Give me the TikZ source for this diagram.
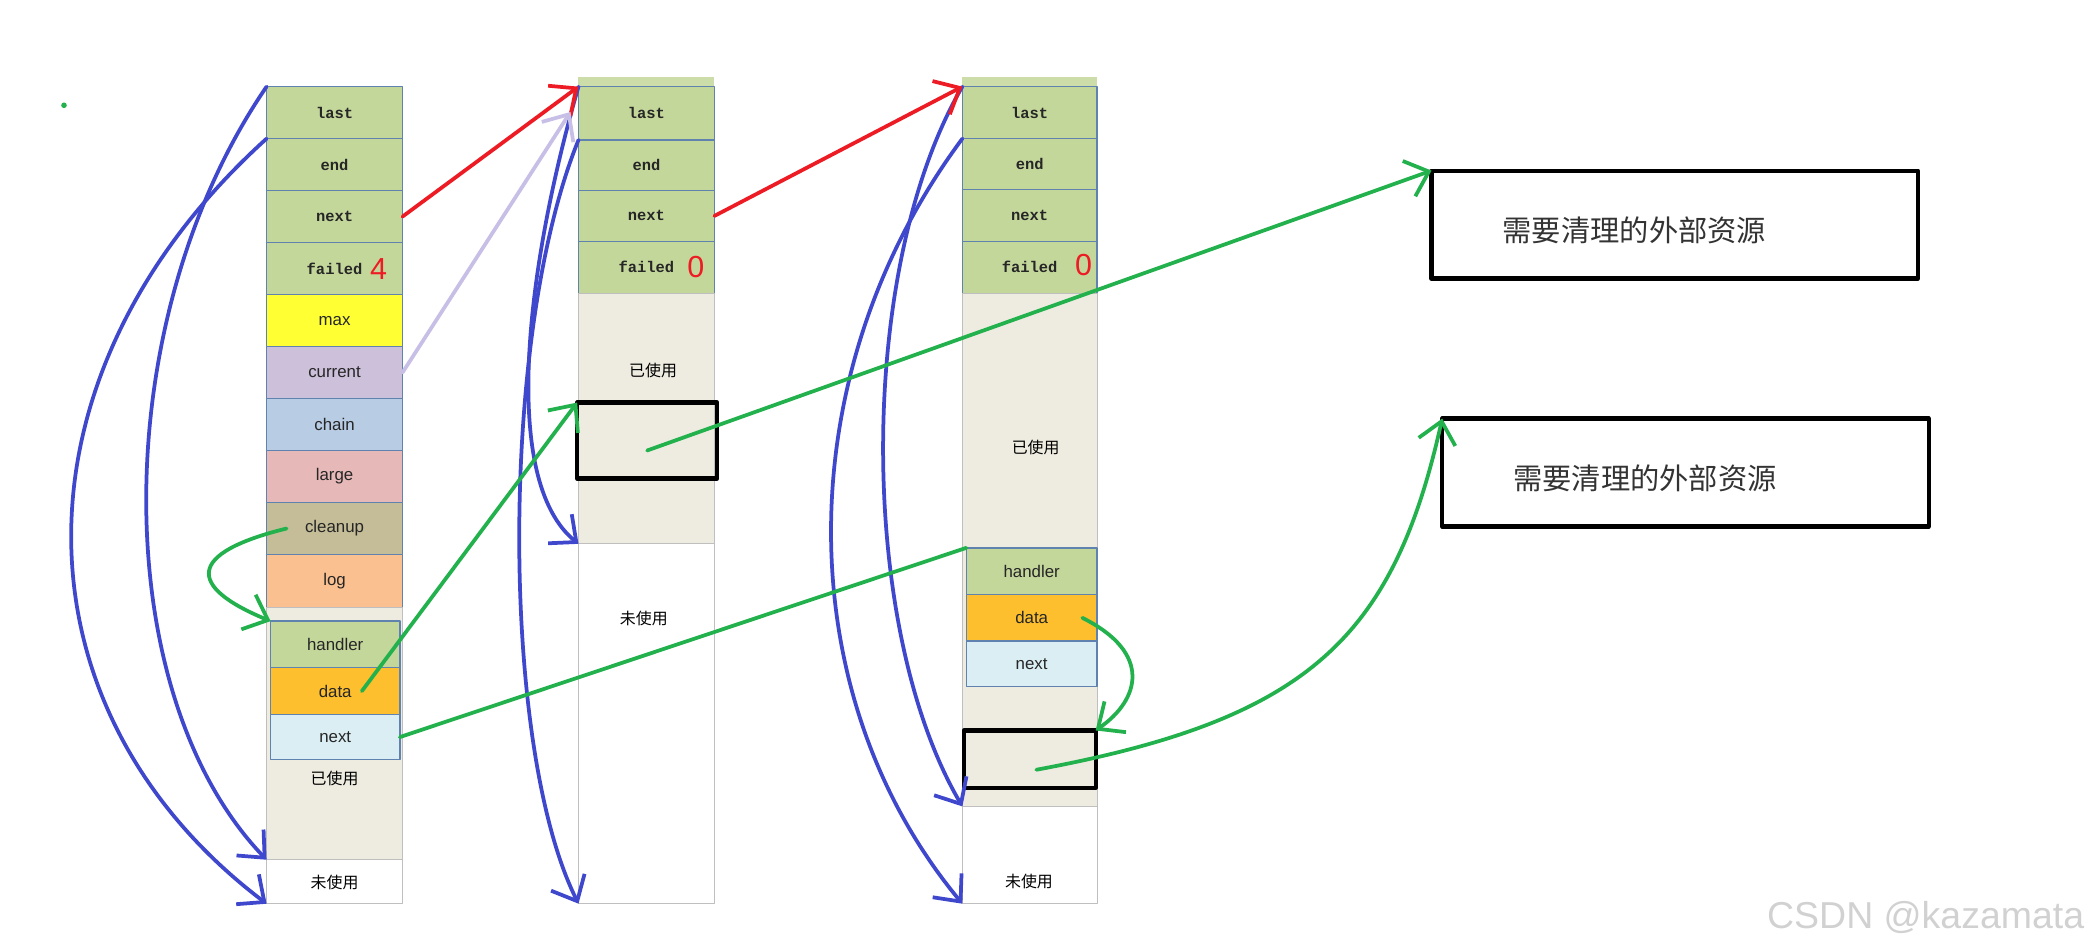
\documentclass[tikz,border=0pt]{standalone}
\usepackage{fontspec}
\setmainfont{Liberation Sans}
\newfontfamily\cjkfont{Noto Sans CJK SC}
\newfontfamily\monofont{Liberation Mono}
\usetikzlibrary{arrows.meta}

\definecolor{cellgreen}{RGB}{196,215,155}
\definecolor{cellyellow}{RGB}{255,255,51}
\definecolor{celllav}{RGB}{204,192,218}
\definecolor{cellblue}{RGB}{184,204,228}
\definecolor{cellpink}{RGB}{230,185,184}
\definecolor{cellkhaki}{RGB}{196,189,151}
\definecolor{cellpeach}{RGB}{250,192,144}
\definecolor{cellorange}{RGB}{253,191,45}
\definecolor{cellcyan}{RGB}{218,238,243}
\definecolor{cellbeige}{RGB}{238,236,225}
\definecolor{cellline}{RGB}{95,130,175}
\definecolor{penblue}{RGB}{63,72,204}
\definecolor{penred}{RGB}{237,28,36}
\definecolor{pengreen}{RGB}{34,177,76}
\definecolor{penlav}{RGB}{200,191,231}

\newcommand{\monolab}{\monofont\bfseries\fontsize{6.6}{7}\selectfont}
\newcommand{\sanslab}{\fontsize{7.2}{8}\selectfont}
\newcommand{\cjklab}{\cjkfont\fontsize{6.8}{8}\selectfont}
\newcommand{\cjkbig}{\cjkfont\fontsize{12.5}{14}\selectfont}
\newcommand{\countlab}{\fontsize{13}{14}\selectfont}

\tikzset{
  cellbox/.style={draw=cellline, line width=0.6pt, inner sep=0pt, outer sep=0pt,
    anchor=north west, minimum width=2.04cm, minimum height=0.78cm, text=black!85},
  areabox/.style={draw=black!25, line width=0.4pt, inner sep=0pt, outer sep=0pt,
    anchor=north west, minimum width=2.04cm},
  markbox/.style={draw=black, line width=1.8pt, inner sep=0pt, outer sep=0pt, anchor=north west},
  resbox/.style={draw=black, line width=1.8pt, inner sep=0pt, outer sep=0pt,
    anchor=north west, minimum width=7.3cm, minimum height=1.62cm},
  countlabel/.style={text=penred, inner sep=0pt, font=\countlab},
  bluepen/.style={penblue, line width=1.6pt, ->},
  redpen/.style={penred, line width=1.6pt, ->},
  lavpen/.style={penlav, line width=1.6pt, ->},
  greenpen/.style={pengreen, line width=1.6pt},
}

\begin{document}
\begin{tikzpicture}[line cap=round,line join=round,>={Straight Barb[length=9pt,width=16pt]},x=0.02cm,y=-0.02cm]

\useasboundingbox (0,0) rectangle (1568,713);

% first block
\node[cellbox, fill=cellgreen] (c1last) at (200,65) {\monolab last};
\node[cellbox, fill=cellgreen] (c1end) at (200,104) {\monolab end};
\node[cellbox, fill=cellgreen] (c1next) at (200,143) {\monolab next};
\node[cellbox, fill=cellgreen] (c1failed) at (200,182) {\monolab failed\hspace{0.5em}};
\node[cellbox, fill=cellyellow] (c1max) at (200,221) {\sanslab max};
\node[cellbox, fill=celllav] (c1current) at (200,260) {\sanslab current};
\node[cellbox, fill=cellblue] (c1chain) at (200,299) {\sanslab chain};
\node[cellbox, fill=cellpink] (c1large) at (200,338) {\sanslab large};
\node[cellbox, fill=cellkhaki] (c1cleanup) at (200,377) {\sanslab cleanup};
\node[cellbox, fill=cellpeach, minimum height=0.8cm] (c1log) at (200,416) {\sanslab log};
\node[areabox, fill=cellbeige, minimum height=3.78cm] (c1used) at (200,456) {};
\node[cellbox, fill=cellgreen, minimum width=1.94cm, minimum height=0.7cm] (c1handler) at (203,466) {\sanslab handler};
\node[cellbox, fill=cellorange, minimum width=1.94cm, minimum height=0.7cm] (c1data) at (203,501) {\sanslab data};
\node[cellbox, fill=cellcyan, minimum width=1.94cm, minimum height=0.68cm] (c1cnext) at (203,536) {\sanslab next};
\node[areabox, fill=white, minimum height=0.66cm] (c1free) at (200,645) {};
\node (c1usedtxt) at (251,584) {\cjklab 已使用};
\node (c1freetxt) at (251,662) {\cjklab 未使用};
\node[countlabel] (c1count) at (284,202) {4};

% second block
\node[cellbox, fill=cellgreen!85, draw=none, minimum height=0.14cm] (c2cap) at (434,58) {};
\node[cellbox, fill=cellgreen, minimum height=0.8cm] (c2last) at (434,65) {\monolab last};
\node[cellbox, fill=cellgreen, minimum height=0.76cm] (c2end) at (434,105) {\monolab end};
\node[cellbox, fill=cellgreen, minimum height=0.76cm] (c2next) at (434,143) {\monolab next};
\node[cellbox, fill=cellgreen] (c2failed) at (434,181) {\monolab failed};
\node[areabox, fill=cellbeige, minimum height=3.76cm] (c2used) at (434,220) {};
\node[areabox, fill=white, minimum height=5.4cm] (c2free) at (434,408) {};
\node[markbox, minimum width=2.1cm, minimum height=1.14cm] (c2box) at (433,302) {};
\node (c2usedtxt) at (490,278) {\cjklab 已使用};
\node (c2freetxt) at (483,464) {\cjklab 未使用};
\node[countlabel] (c2count) at (522,200) {0};

% third block
\node[cellbox, fill=cellgreen!85, draw=none, minimum width=2.02cm, minimum height=0.14cm] (c3cap) at (722,58) {};
\node[cellbox, fill=cellgreen, minimum width=2.02cm] (c3last) at (722,65) {\monolab last};
\node[cellbox, fill=cellgreen, minimum width=2.02cm, minimum height=0.76cm] (c3end) at (722,104) {\monolab end};
\node[cellbox, fill=cellgreen, minimum width=2.02cm] (c3next) at (722,142) {\monolab next};
\node[cellbox, fill=cellgreen, minimum width=2.02cm] (c3failed) at (722,181) {\monolab failed};
\node[areabox, fill=cellbeige, minimum width=2.02cm, minimum height=7.7cm] (c3used) at (722,220) {};
\node[cellbox, fill=cellgreen, minimum width=1.96cm, minimum height=0.7cm] (c3handler) at (725,411) {\sanslab handler};
\node[cellbox, fill=cellorange, minimum width=1.96cm, minimum height=0.7cm] (c3data) at (725,446) {\sanslab data};
\node[cellbox, fill=cellcyan, minimum width=1.96cm, minimum height=0.68cm] (c3cnext) at (725,481) {\sanslab next};
\node[areabox, fill=white, minimum width=2.02cm, minimum height=1.46cm] (c3free) at (722,605) {};
\node[markbox, minimum width=1.98cm, minimum height=0.86cm] (c3box) at (723,548) {};
\node (c3usedtxt) at (777,336) {\cjklab 已使用};
\node (c3freetxt) at (772,661) {\cjklab 未使用};
\node[countlabel] (c3count) at (813,199) {0};

% outside resources
\node[resbox] (res1) at (1074,128) {};
\node[resbox] (res2) at (1082,314) {};
\node[anchor=west, inner sep=0pt, text=black!80] (res1txt) at (1127,173) {\cjkbig 需要清理的外部资源};
\node[anchor=west, inner sep=0pt, text=black!80] (res2txt) at (1135,359) {\cjkbig 需要清理的外部资源};

\node[anchor=east, inner sep=0pt, text=black!18, font=\fontsize{16}{18}\selectfont] (mark) at (1564,688) {CSDN @kazamata};
\fill[pengreen] (48,79) circle (1.2pt);

% last / end pointers
\draw[bluepen] (c1last.north west) .. controls (80,240) and (80,520) .. (c1free.north west);
\draw[bluepen] (c1end.north west) .. controls (5,280) and (5,530) .. (c1free.south west);
\draw[bluepen] (c2last.north west) .. controls (395,200) and (375,360) .. (c2free.north west);
\draw[bluepen] (c2end.north west) .. controls (375,250) and (375,560) .. (c2free.south west);
\draw[bluepen] (c3last.north west) .. controls (643,200) and (643,470) .. (c3free.north west);
\draw[bluepen] (c3end.north west) .. controls (591,280) and (591,520) .. (c3free.south west);

% next / current
\draw[redpen] (c1next.east) -- (c2last.north west);
\draw[redpen] (c2next.east) -- (c3last.north west);
\draw[lavpen] (c1current.east) -- ([xshift=-0.12cm,yshift=-0.38cm]c2last.north west);

% cleanup chain
\draw[greenpen,->] ([xshift=0.3cm]c1cleanup.west) .. controls (140,415) and (140,440) .. (c1handler.north west);
\draw[greenpen,->] ([xshift=0.4cm]c1data.center) -- (c2box.north west);
\draw[greenpen] (c1cnext.east) -- (c3handler.north west);
\draw[greenpen,->] ([yshift=-0.15cm]c2box.center) -- (res1.north west);
\draw[greenpen,->] ([xshift=0.76cm]c3data.center) .. controls (865,490) and (855,525) .. (c3box.north east);
\draw[greenpen,->] ([xshift=0.1cm,yshift=-0.16cm]c3box.center) .. controls (980,540) and (1045,480) .. (res2.north west);

\end{tikzpicture}
\end{document}
